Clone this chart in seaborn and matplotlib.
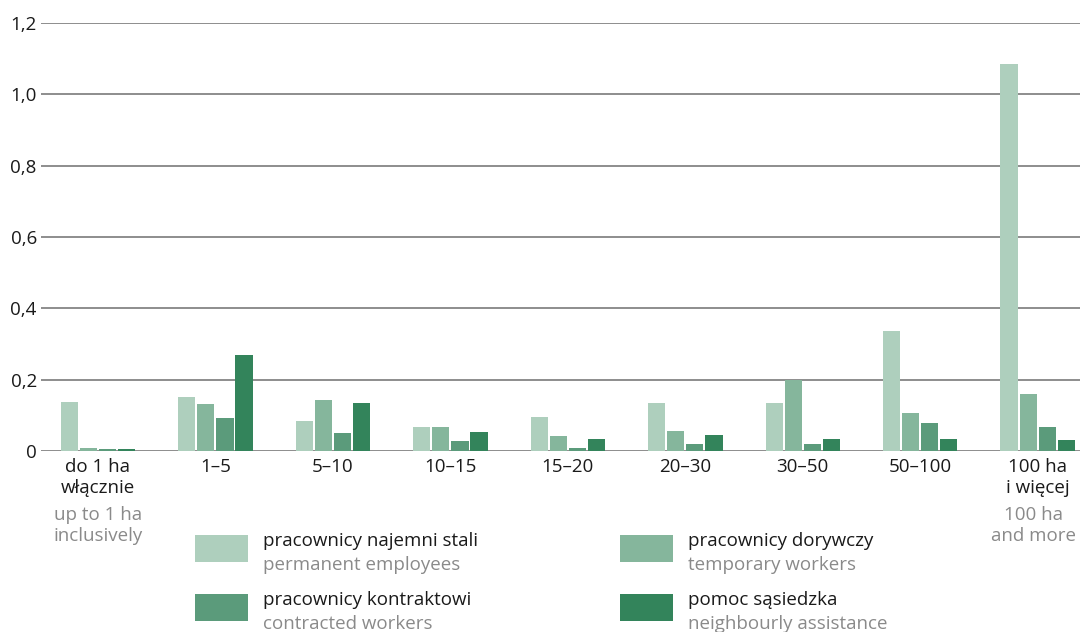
import matplotlib
matplotlib.use("Agg")
import matplotlib.pyplot as plt
import matplotlib.transforms as mtransforms
from matplotlib.patches import Rectangle
import seaborn as sns
import pandas as pd

categories_pl = ["do 1 ha\nwłącznie", "1–5", "5–10", "10–15", "15–20", "20–30", "30–50", "50–100", "100 ha\ni więcej"]
categories_en = ["up to 1 ha\ninclusively", "", "", "", "", "", "", "", "100 ha\nand more"]

series_pl = ["pracownicy najemni stali", "pracownicy dorywczy", "pracownicy kontraktowi", "pomoc sąsiedzka"]
series_en = ["permanent employees", "temporary workers", "contracted workers", "neighbourly assistance"]

permanent = [0.138, 0.151, 0.085, 0.067, 0.094, 0.135, 0.135, 0.336, 1.084]
temporary = [0.009, 0.131, 0.142, 0.067, 0.043, 0.056, 0.199, 0.107, 0.159]
contracted = [0.005, 0.092, 0.050, 0.028, 0.009, 0.020, 0.021, 0.079, 0.067]
neighbourly = [0.007, 0.269, 0.135, 0.053, 0.034, 0.044, 0.034, 0.033, 0.032]

yticks = [0, 0.2, 0.4, 0.6, 0.8, 1.0, 1.2]
ytick_labels = ["0", "0,2", "0,4", "0,6", "0,8", "1,0", "1,2"]

colors = ["#aecfbd", "#85b69c", "#5b9b7b", "#33845b"]

rows = []
for s, vals in zip(series_pl, [permanent, temporary, contracted, neighbourly]):
    for c, v in zip(categories_pl, vals):
        rows.append({"cat": c, "series": s, "value": v})
df = pd.DataFrame(rows)

sns.set_theme(style="white")
plt.rcParams["font.family"] = ["Open Sans", "DejaVu Sans"]

FS = 13.5
W, H = 1080, 632
fig = plt.figure(figsize=(W / 100, H / 100), dpi=100)
ax = fig.add_axes([41 / W, (H - 451) / H, 1 - 41 / W, (451 - 23) / H])

sns.barplot(data=df, x="cat", y="value", hue="series", hue_order=series_pl,
            order=categories_pl, palette=colors, width=0.65, gap=0.1,
            linewidth=0, legend=False, ax=ax, errorbar=None, saturation=1)

ax.set_xlim(-0.485, 8.36)
ax.set_ylim(0, 1.2)
ax.set_yticks(yticks)
ax.set_yticklabels(ytick_labels, fontsize=FS, color="#1a1a1a")
ax.tick_params(axis="y", length=0, pad=3)
for y in yticks:
    ax.axhline(y, color="#858585", lw=1.3, zorder=0)
for sp in ax.spines.values():
    sp.set_visible(False)
ax.set_xlabel("")
ax.set_ylabel("")
ax.set_xticks([])

trans = mtransforms.blended_transform_factory(ax.transData, ax.transAxes)
n = len(categories_pl)
for i, (pl, en) in enumerate(zip(categories_pl, categories_en)):
    ax.text(i, -0.017, pl, transform=trans, ha="center", va="top",
            fontsize=FS, color="#1a1a1a", linespacing=1.2)
    if en:
        t = trans
        if i == n - 1:
            t = trans + mtransforms.ScaledTranslation(-4 / 100, 0, fig.dpi_scale_trans)
        ax.text(i, -0.129, en, transform=t, ha="center", va="top",
                fontsize=FS, color="#8a8a8a", linespacing=1.2)

# legend
def px(x, y):
    return x / W, 1 - y / H

legend_pos = [(195, 535), (620, 535), (195, 594), (620, 594)]
for (x0, y0), col, pl, en in zip(legend_pos, colors, series_pl, series_en):
    fx, fy = px(x0, y0 + 27)
    fig.patches.append(Rectangle((fx, fy), 53 / W, 27 / H, transform=fig.transFigure,
                                 facecolor=col, edgecolor="none"))
    tx, ty = px(x0 + 68, y0 + 6)
    fig.text(tx, ty, pl, fontsize=FS, color="#1a1a1a", ha="left", va="center")
    tx, ty = px(x0 + 68, y0 + 30)
    fig.text(tx, ty, en, fontsize=FS, color="#8a8a8a", ha="left", va="center")

fig.savefig("out.png", dpi=100)
